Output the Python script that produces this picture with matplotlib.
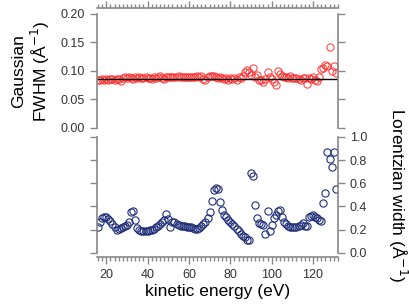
import numpy as np
import matplotlib
matplotlib.use('Agg')
import matplotlib.pyplot as plt
from matplotlib.ticker import MultipleLocator

plt.rcParams['font.family'] = ['Liberation Sans', 'DejaVu Sans']

# photon kinetic energies (eV)
energy = [16, 17, 18, 19, 20, 21, 22, 23, 24, 25, 26, 27, 28, 29, 30, 31, 32, 33, 34, 35,
          36, 37, 38, 39, 40, 41, 42, 43, 44, 45, 46, 47, 48, 49, 50, 51, 52, 53, 54, 55,
          56, 57, 58, 59, 60, 61, 62, 63, 64, 65, 66, 67, 68, 69, 70, 71, 72, 73, 74, 75,
          76, 77, 78, 79, 80, 81, 82, 83, 84, 85, 86, 87, 88, 89, 90, 91, 92, 93, 94, 95,
          96, 97, 98, 99, 100, 101, 102, 103, 104, 105, 106, 107, 108, 109, 110, 111, 112, 113, 114, 115,
          116, 117, 118, 119, 120, 121, 122, 123, 124, 125, 126, 127, 128, 129, 130, 131]

# Gaussian FWHM (1/Angstrom)
gauss = [0.084, 0.085, 0.086, 0.085, 0.086, 0.085, 0.086, 0.086, 0.085, 0.086,
         0.086, 0.083, 0.087, 0.089, 0.087, 0.090, 0.088, 0.086, 0.089, 0.087,
         0.090, 0.088, 0.087, 0.089, 0.088, 0.087, 0.086, 0.089, 0.088, 0.090,
         0.092, 0.088, 0.086, 0.089, 0.090, 0.090, 0.090, 0.090, 0.090, 0.091,
         0.090, 0.090, 0.090, 0.090, 0.090, 0.089, 0.090, 0.089, 0.091, 0.090,
         0.092, 0.086, 0.084, 0.090, 0.091, 0.091, 0.092, 0.090, 0.088, 0.090,
         0.087, 0.086, 0.088, 0.085, 0.087, 0.086, 0.088, 0.085, 0.090, 0.088,
         0.092, 0.099, 0.102, 0.098, 0.093, 0.105, 0.089, 0.093, 0.085, 0.084,
         0.081, 0.086, 0.099, 0.090, 0.086, 0.080, 0.076, 0.100, 0.095, 0.091,
         0.090, 0.089, 0.088, 0.091, 0.088, 0.087, 0.088, 0.086, 0.085, 0.088,
         0.087, 0.077, 0.088, 0.086, 0.089, 0.085, 0.083, 0.090, 0.103, 0.105,
         0.110, 0.109, 0.142, 0.100, 0.108, 0.097]

# Lorentzian width (1/Angstrom)
lorentz = [0.22, 0.27, 0.30, 0.31, 0.31, 0.295, 0.275, 0.25, 0.225, 0.20,
           0.205, 0.215, 0.225, 0.23, 0.24, 0.265, 0.35, 0.36, 0.28, 0.215,
           0.195, 0.185, 0.19, 0.19, 0.19, 0.195, 0.195, 0.205, 0.22, 0.235,
           0.25, 0.265, 0.285, 0.335, 0.29, 0.22, 0.27, 0.265, 0.25, 0.24,
           0.235, 0.23, 0.23, 0.225, 0.225, 0.22, 0.215, 0.21, 0.205, 0.215,
           0.235, 0.25, 0.27, 0.30, 0.35, 0.45, 0.54, 0.555, 0.55, 0.435,
           0.37, 0.33, 0.31, 0.285, 0.265, 0.245, 0.23, 0.21, 0.19, 0.165,
           0.15, 0.135, 0.11, 0.115, 0.69, 0.66, 0.41, 0.30, 0.26, 0.245,
           0.24, 0.165, 0.36, 0.185, 0.24, 0.30, 0.33, 0.36, 0.37, 0.31,
           0.27, 0.25, 0.23, 0.22, 0.22, 0.22, 0.225, 0.23, 0.24, 0.255,
           0.23, 0.23, 0.31, 0.32, 0.325, 0.31, 0.30, 0.285, 0.275, 0.43,
           0.52, 0.87, 0.81, 0.74, 0.865, 0.55]

gauss_mean = 0.0855

spine_col = '#888888'
text_col = '#333333'
xlim = (15.5, 132)

fig = plt.figure(figsize=(4.09, 3.04), dpi=100)
ax1 = fig.add_axes([0.237, 0.579, 0.589, 0.375])
ax2 = fig.add_axes([0.237, 0.168, 0.589, 0.382])

for ax in (ax1, ax2):
    ax.set_xlim(*xlim)
    for s in ax.spines.values():
        s.set_color(spine_col)
        s.set_linewidth(1.2)
    ax.tick_params(which='both', color=spine_col, labelcolor=text_col,
                   labelsize=9, direction='out', width=1)
    ax.xaxis.set_major_locator(MultipleLocator(20))
    ax.xaxis.set_minor_locator(MultipleLocator(2))

# top panel: Gaussian FWHM
ax1.plot(energy, gauss, 'o', mfc='none', mec='#ff2a2a', ms=5.2, mew=0.8, alpha=0.85)
ax1.axhline(gauss_mean, color='black', lw=1)
ax1.set_ylim(0, 0.2)
ax1.set_yticks([0, 0.05, 0.10, 0.15, 0.20])
ax1.set_yticklabels(['0.00', '0.05', '0.10', '0.15', '0.20'])
ax1.spines['bottom'].set_visible(False)
ax1.spines['top'].set_position(('outward', 4))
ax1.tick_params(axis='x', which='both', bottom=False, labelbottom=False, top=True, labeltop=False)
ax1.tick_params(axis='x', which='major', length=5)
ax1.tick_params(axis='x', which='minor', length=3)
ax1.tick_params(axis='y', right=True, length=5)
ax1.set_ylabel('Gaussian\nFWHM (Å$^{-1}$)', fontsize=12.5, color='black', labelpad=6)

# bottom panel: Lorentzian width
ax2.plot(energy, lorentz, 'o', mfc='none', mec='#1f2d78', ms=5.2, mew=0.8)
ax2.set_ylim(0, 1.0)
ax2.set_yticks([0, 0.2, 0.4, 0.6, 0.8, 1.0])
ax2.spines['top'].set_visible(False)
ax2.spines['bottom'].set_position(('outward', 3))
ax2.tick_params(axis='y', left=True, labelleft=False, right=True, labelright=True, length=5)
ax2.tick_params(axis='x', which='major', length=5)
ax2.tick_params(axis='x', which='minor', length=3)
ax2.yaxis.set_label_position('right')
ax2.set_ylabel('Lorentzian width (Å$^{-1}$)', fontsize=12.5, color='black',
               rotation=-90, labelpad=30)
ax2.set_xlabel('kinetic energy (eV)', fontsize=12.5, color='black', labelpad=2)

fig.savefig('out.png', dpi=100)
